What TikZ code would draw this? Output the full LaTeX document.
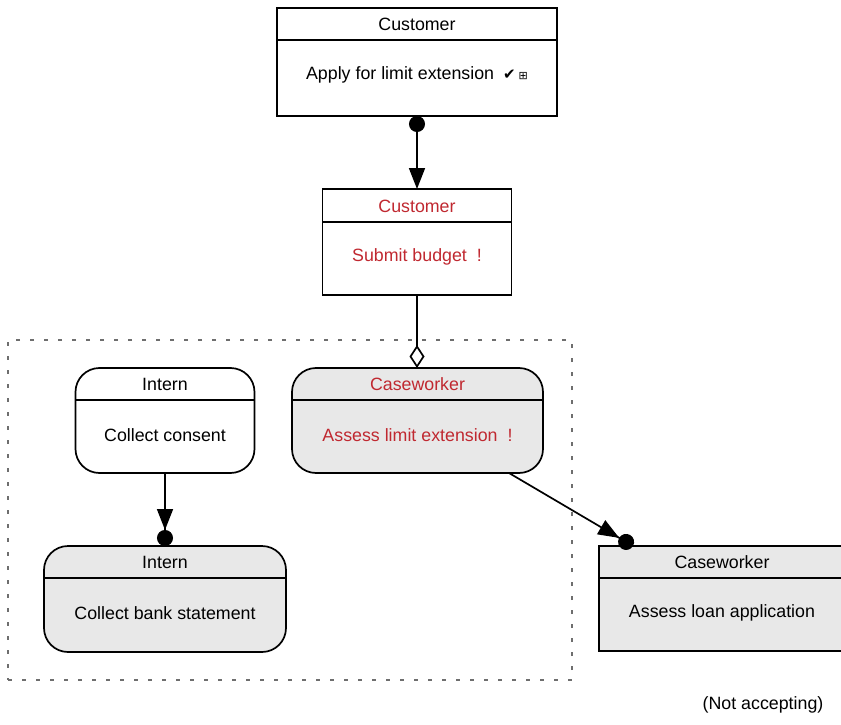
\documentclass[tikz,border=0pt]{standalone}
\usepackage{fontspec}
\setmainfont{Liberation Sans}
\newfontfamily\symfont{DejaVu Sans}
\usetikzlibrary{arrows.meta}
\definecolor{myred}{RGB}{192,40,48}
\definecolor{myfill}{RGB}{232,232,232}
\definecolor{framegray}{RGB}{110,110,110}
\begin{document}
\begin{tikzpicture}[x=1pt,y=-1pt,
  box/.style={draw, line width=1.7pt, inner sep=0pt, outer sep=0pt},
  actbox/.style={box},
  statebox/.style={box, rounded corners=24pt},
  grayfill/.style={fill=myfill},
  lbl/.style={font=\fontsize{17.8}{20}\selectfont, inner sep=0pt},
  redlbl/.style={lbl, text=myred},
  hline/.style={line width=1.5pt},
  conn/.style={line width=1.7pt},
  frame/.style={draw=framegray, line width=1.4pt, dash pattern=on 4pt off 10pt, inner sep=0pt},
  dotstart/.style={{Circle[length=16pt]}-{Triangle[length=21pt,width=16pt]}},
  dotend/.style={-{Triangle[length=21pt,width=16pt] Circle[length=16pt]}},
  diamondend/.style={-{Diamond[length=23pt,width=15pt,fill=white]}}
]
\clip (0,0) rectangle (841,725);

% group frame
\node[frame, minimum width=564pt, minimum height=340pt] (grp) at (290,510) {};

% top Customer activity
\node[actbox, minimum width=280pt, minimum height=108pt] (b1) at (417,62) {};
\draw[hline] (b1.west |- 0,40) -- (b1.east |- 0,40);
\node[lbl] (b1h) at (417,24) {Customer};
\node[lbl] (b1a) at (417,75) {Apply for limit extension\hspace{9pt}{\symfont\fontsize{15}{15}\selectfont ✔}\hspace{3pt}{\symfont\fontsize{11}{11}\selectfont ⊞}};

% red Customer activity
\node[actbox, minimum width=189pt, minimum height=106pt] (b2) at (417,242) {};
\draw[hline] (b2.west |- 0,222) -- (b2.east |- 0,222);
\node[redlbl] (b2h) at (417,206) {Customer};
\node[redlbl] (b2a) at (417,257) {Submit budget\hspace{10pt}!};

% Intern top
\node[statebox, minimum width=179pt, minimum height=105pt] (s1) at (165,420.5) {};
\draw[hline] (s1.west |- 0,400) -- (s1.east |- 0,400);
\node[lbl] (s1h) at (165,384) {Intern};
\node[lbl] (s1a) at (165,435) {Collect consent};

% Caseworker red
\node[statebox, grayfill, minimum width=251pt, minimum height=105pt] (s2) at (417.5,420.5) {};
\draw[hline] (s2.west |- 0,400) -- (s2.east |- 0,400);
\node[redlbl] (s2h) at (417.5,384) {Caseworker};
\node[redlbl] (s2a) at (417.5,435) {Assess limit extension\hspace{10pt}!};

% Intern bottom
\node[statebox, grayfill, minimum width=242pt, minimum height=106pt] (s3) at (165,599) {};
\draw[hline] (s3.west |- 0,578) -- (s3.east |- 0,578);
\node[lbl] (s3h) at (165,562) {Intern};
\node[lbl] (s3a) at (165,613) {Collect bank statement};

% Caseworker right
\node[actbox, grayfill, minimum width=246pt, minimum height=105pt] (b3) at (722,598.5) {};
\draw[hline] (b3.west |- 0,578) -- (b3.east |- 0,578);
\node[lbl] (b3h) at (722,562) {Caseworker};
\node[lbl] (b3a) at (722,613) {Assess loan application};

% status
\node[lbl] (status) at (763,705) {(Not accepting)};

% connectors
\draw[conn, dotstart] (b1.south) -- (b2.north);
\draw[conn, diamondend] (b2.south) -- (b2.south |- s2.north);
\draw[conn, dotend] (s1.south) -- (s3.north);
\draw[conn, dotend] ([xshift=-34pt]s2.south east) -- ([xshift=34pt]b3.north west);
\end{tikzpicture}
\end{document}
